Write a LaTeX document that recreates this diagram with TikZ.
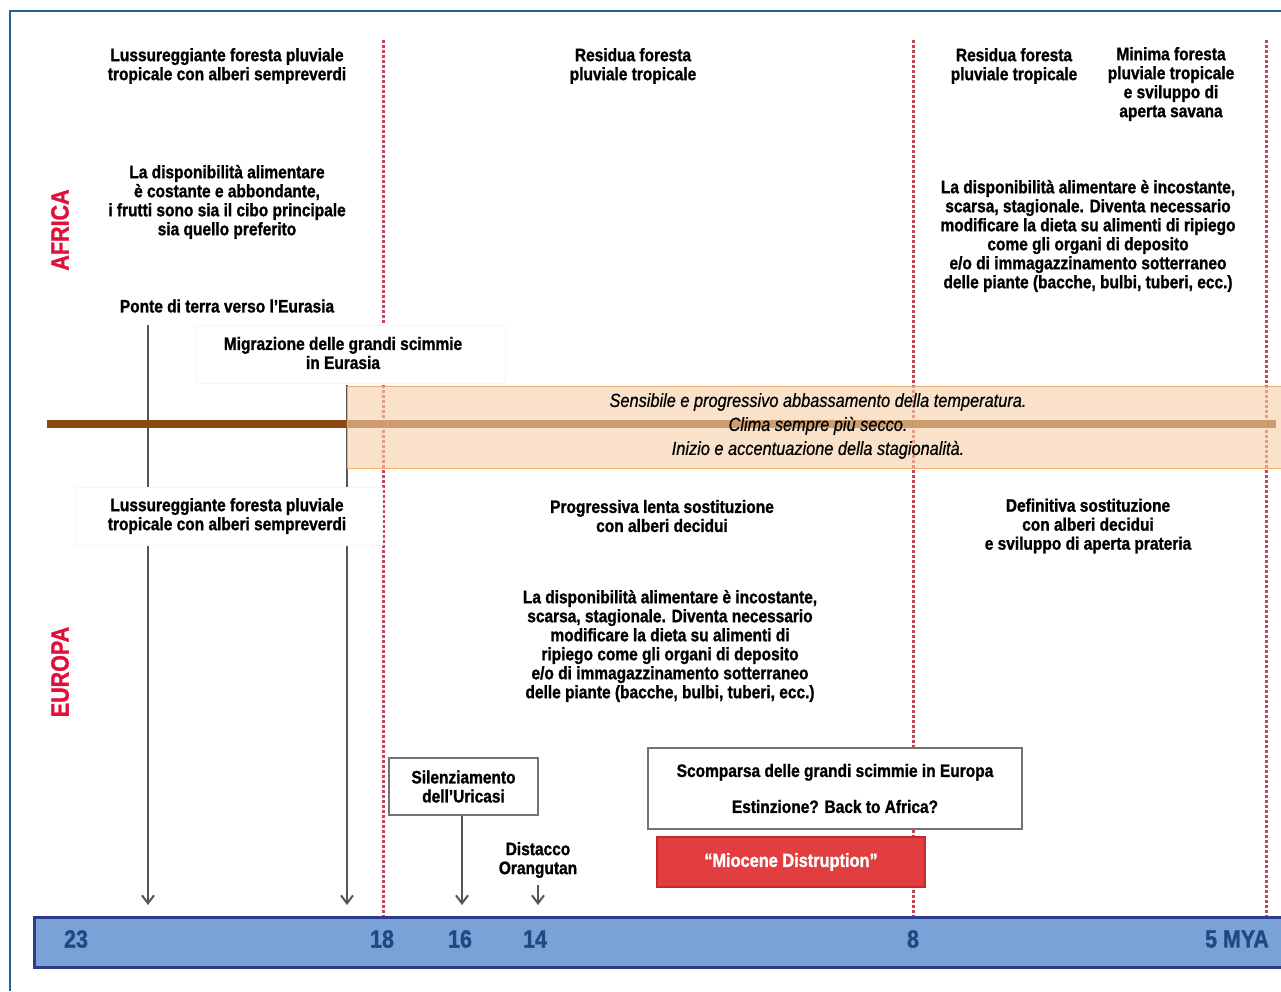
\documentclass[tikz,border=0pt]{standalone}
\usepackage{fontspec}
\setmainfont{Liberation Sans}[FakeStretch=0.86, BoldFeatures={FakeBold=1.2}, ItalicFeatures={FakeBold=0.6}]
\usetikzlibrary{arrows.meta}
\definecolor{framebl}{HTML}{2A5C9A}
\definecolor{bandfill}{HTML}{F7CFA8}
\definecolor{bandline}{HTML}{F0AE6E}
\definecolor{brownln}{HTML}{8A4A14}
\definecolor{redln}{HTML}{C94452}
\definecolor{barfill}{HTML}{7BA2D6}
\definecolor{barline}{HTML}{2D3C8E}
\definecolor{bartext}{HTML}{1B4A85}
\definecolor{boxred}{HTML}{E23D3F}
\definecolor{boxredln}{HTML}{C42A2C}
\definecolor{arrgrey}{HTML}{555555}
\definecolor{titlered}{HTML}{E0103A}
\tikzset{
  lbl/.style={font=\bfseries\fontsize{18}{19}\selectfont, align=center, inner sep=0pt},
  cliff/.style={line width=3pt, color=redln, dash pattern=on 3pt off 2pt},
  arr/.style={line width=2pt, color=arrgrey, -{Straight Barb[length=8pt,width=12pt,line width=2pt]}},
  greybox/.style={draw=black!55, line width=2pt, fill=white},
  yearlbl/.style={font=\bfseries\fontsize{25}{25}\selectfont, text=bartext, inner sep=0pt},
  continent/.style={font=\bfseries\fontsize{25}{25}\selectfont, text=titlered, rotate=90, inner sep=0pt}
}
\begin{document}
\begin{tikzpicture}[x=1pt,y=-1pt]
		%%%%% START %%%%%
		\useasboundingbox (0,0) rectangle (1281,991);
		
		\draw[line width=1.5pt, color=framebl] (10,991) -- (10,11) -- (1281,11);
		
		% red dashed lines
		\draw[cliff] (383,40) -- (383,917);
		\draw[cliff] (913,40) -- (913,917);
		\draw[cliff] (1266,40) -- (1266,917);
		
		\node[continent] (africa) at (60,230) {AFRICA};
		\node[continent] (europa) at (60,672) {EUROPA};
		
		% Africa
		\node[lbl] (afForest) at (227,66) {Lussureggiante foresta pluviale\\tropicale con alberi sempreverdi};
		\node[lbl] (afResid) at (633,66) {Residua foresta\\pluviale tropicale};
		\node[lbl] (afResidB) at (1014,66) {Residua foresta\\pluviale tropicale};
		\node[lbl] (afMinima) at (1171,84) {Minima foresta\\pluviale tropicale\\e sviluppo di\\aperta savana};
		\node[lbl] (afFood) at (227,202) {La disponibilità alimentare\\è costante e abbondante,\\i frutti sono sia il cibo principale\\sia quello preferito};
		\node[lbl] (afFoodB) at (1088,236) {La disponibilità alimentare è incostante,\\scarsa, stagionale. Diventa necessario\\modificare la dieta su alimenti di ripiego\\come gli organi di deposito\\e/o di immagazzinamento sotterraneo\\delle piante (bacche, bulbi, tuberi, ecc.)};
		\node[lbl] (ponte) at (227,306) {Ponte di terra verso l’Eurasia};
		
		\draw[draw=black!4, fill=white] (196,325) rectangle (505,383);
		\node[lbl] (migraz) at (343,353) {Migrazione delle grandi scimmie\\in Eurasia};
		
		% arrows to the time bar
		\coordinate (ponteTop) at (148,325);
		\coordinate (ponteEnd) at (148,905);
		\coordinate (migrTop) at (347,385);
		\coordinate (migrEnd) at (347,905);
		\draw[arr] (ponteTop) -- (ponteEnd);
		\draw[arr] (migrTop) -- (migrEnd);
		
		% climate band
		\draw[line width=8pt, color=brownln] (47,424) -- (1276,424);
		\draw[draw=bandline, line width=1pt, fill=bandfill, fill opacity=0.62] (347,386) rectangle (1290,468);
		\node[font=\itshape\fontsize{19}{24}\selectfont, align=center, inner sep=0pt] (clima) at (818,426) {Sensibile e progressivo abbassamento della temperatura.\\Clima sempre più secco.\\Inizio e accentuazione della stagionalità.};
		
		% Europa
		\draw[draw=black!4, fill=white] (75,487) rectangle (382,545);
		\node[lbl] (euForest) at (227,516) {Lussureggiante foresta pluviale\\tropicale con alberi sempreverdi};
		\node[lbl] (euProgr) at (662,516) {Progressiva lenta sostituzione\\con alberi decidui};
		\node[lbl] (euDefin) at (1088,526) {Definitiva sostituzione\\con alberi decidui\\e sviluppo di aperta prateria};
		\node[lbl] (euFood) at (670,646) {La disponibilità alimentare è incostante,\\scarsa, stagionale. Diventa necessario\\modificare la dieta su alimenti di\\ripiego come gli organi di deposito\\e/o di immagazzinamento sotterraneo\\delle piante (bacche, bulbi, tuberi, ecc.)};
		
		\node[lbl, greybox, minimum width=149pt, minimum height=57pt] (silenz) at (463.5,786.5) {Silenziamento\\dell’Uricasi};
		\coordinate (silenzEnd) at (462,905);
		\draw[arr] (silenz.south -| silenzEnd) -- (silenzEnd);
		
		\node[lbl] (orang) at (538,860) {Distacco\\Orangutan};
		\coordinate (orangTop) at (538,885);
		\coordinate (orangEnd) at (538,905);
		\draw[arr] (orangTop) -- (orangEnd);
		
		\node[lbl, greybox, minimum width=374pt, minimum height=81pt] (scomp) at (835,788.5) {Scomparsa delle grandi scimmie in Europa\\[17pt]Estinzione? Back to Africa?};
		\node[lbl, font=\bfseries\fontsize{19}{19}\selectfont, draw=boxredln, line width=2pt, fill=boxred, text=white, minimum width=268pt, minimum height=50pt] (mioc) at (791,862) {“Miocene Distruption”};
		
		% time bar
		\draw[draw=barline, line width=3pt, fill=barfill] (34,917) rectangle (1290,967);
		\node[yearlbl] (y23) at (76,939) {23};
		\node[yearlbl] (y18) at (382,939) {18};
		\node[yearlbl] (y16) at (460,939) {16};
		\node[yearlbl] (y14) at (535,939) {14};
		\node[yearlbl] (y8) at (913,939) {8};
		\node[yearlbl, anchor=east] (y5) at (1269,939) {5 MYA};
		
		%%%%% END %%%%%
	\end{tikzpicture}
\end{document}
